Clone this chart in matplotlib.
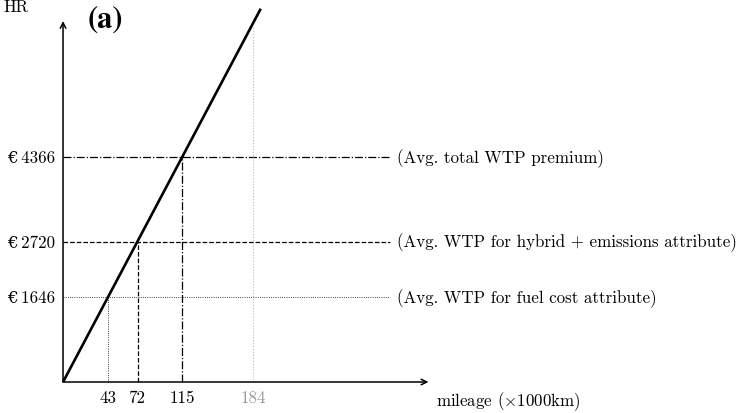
import numpy as np
import matplotlib.pyplot as plt

plt.rcParams['mathtext.fontset'] = 'cm'

# break-even values
mileage = [43, 72, 115]          # 1000 km
wtp = [1646, 2720, 4366]         # euro
wtp_text = ["(Avg. WTP for fuel cost attribute)",
            "(Avg. WTP for hybrid + emissions attribute)",
            "(Avg. total WTP premium)"]
styles = [':', '--', '-.']
max_mileage = 184

# cost line (euro vs 1000 km)
line_x = [0, 191]
line_y = [0, 7250]

fig = plt.figure(figsize=(7.41, 4.14), dpi=100)
ax = fig.add_axes([0, 0, 1, 1])
ax.set_xlim(-60.9, 655)
ax.set_ylim(-602, 7438)
ax.axis('off')

font = ['cmr10', 'DejaVu Serif']
fs = 12.2

# axes with arrows
ax.annotate('', xy=(353, 0), xytext=(0, 0),
            arrowprops=dict(arrowstyle='->', lw=1.1, color='k', shrinkA=0, shrinkB=0))
ax.annotate('', xy=(0, 7010), xytext=(0, 0),
            arrowprops=dict(arrowstyle='->', lw=1.1, color='k', shrinkA=0, shrinkB=0))

ax.plot(line_x, line_y, color='k', lw=1.9, solid_capstyle='butt', zorder=3)

x_end = 316
for m, w, s, t in zip(mileage, wtp, styles, wtp_text):
    lw = 0.6 if s == ':' else 0.9
    ax.plot([0, x_end], [w, w], ls=s, color='k', lw=lw)
    ax.plot([m, m], [0, w], ls=s, color='k', lw=lw)
    ax.text(-7.7, w, "€\u2009" + str(w), ha='right', va='center', fontsize=fs, family=font)
    ax.text(323, w, t, ha='left', va='center', fontsize=fs, family=font)
    ax.text(m, -291, str(m), ha='center', va='center', fontsize=fs, family=font)

ax.plot([max_mileage, max_mileage], [0, np.interp(max_mileage, line_x, line_y) - 100],
        ls=':', color='#bbbbbb', lw=0.8)
ax.text(max_mileage, -291, str(max_mileage), ha='center', va='center',
        fontsize=fs, family=font, color='#999999')

ax.text(360, -370, r"mileage ($\times$1000km)", ha='left', va='center',
        fontsize=fs, family=font)
ax.text(-33, 7290, "HR", ha='right', va='center', fontsize=fs, family=font)
ax.text(24, 7040, "(a)", ha='left', va='center', fontsize=22,
        family='STIXGeneral', weight='bold')

fig.savefig('out.png', dpi=100)
